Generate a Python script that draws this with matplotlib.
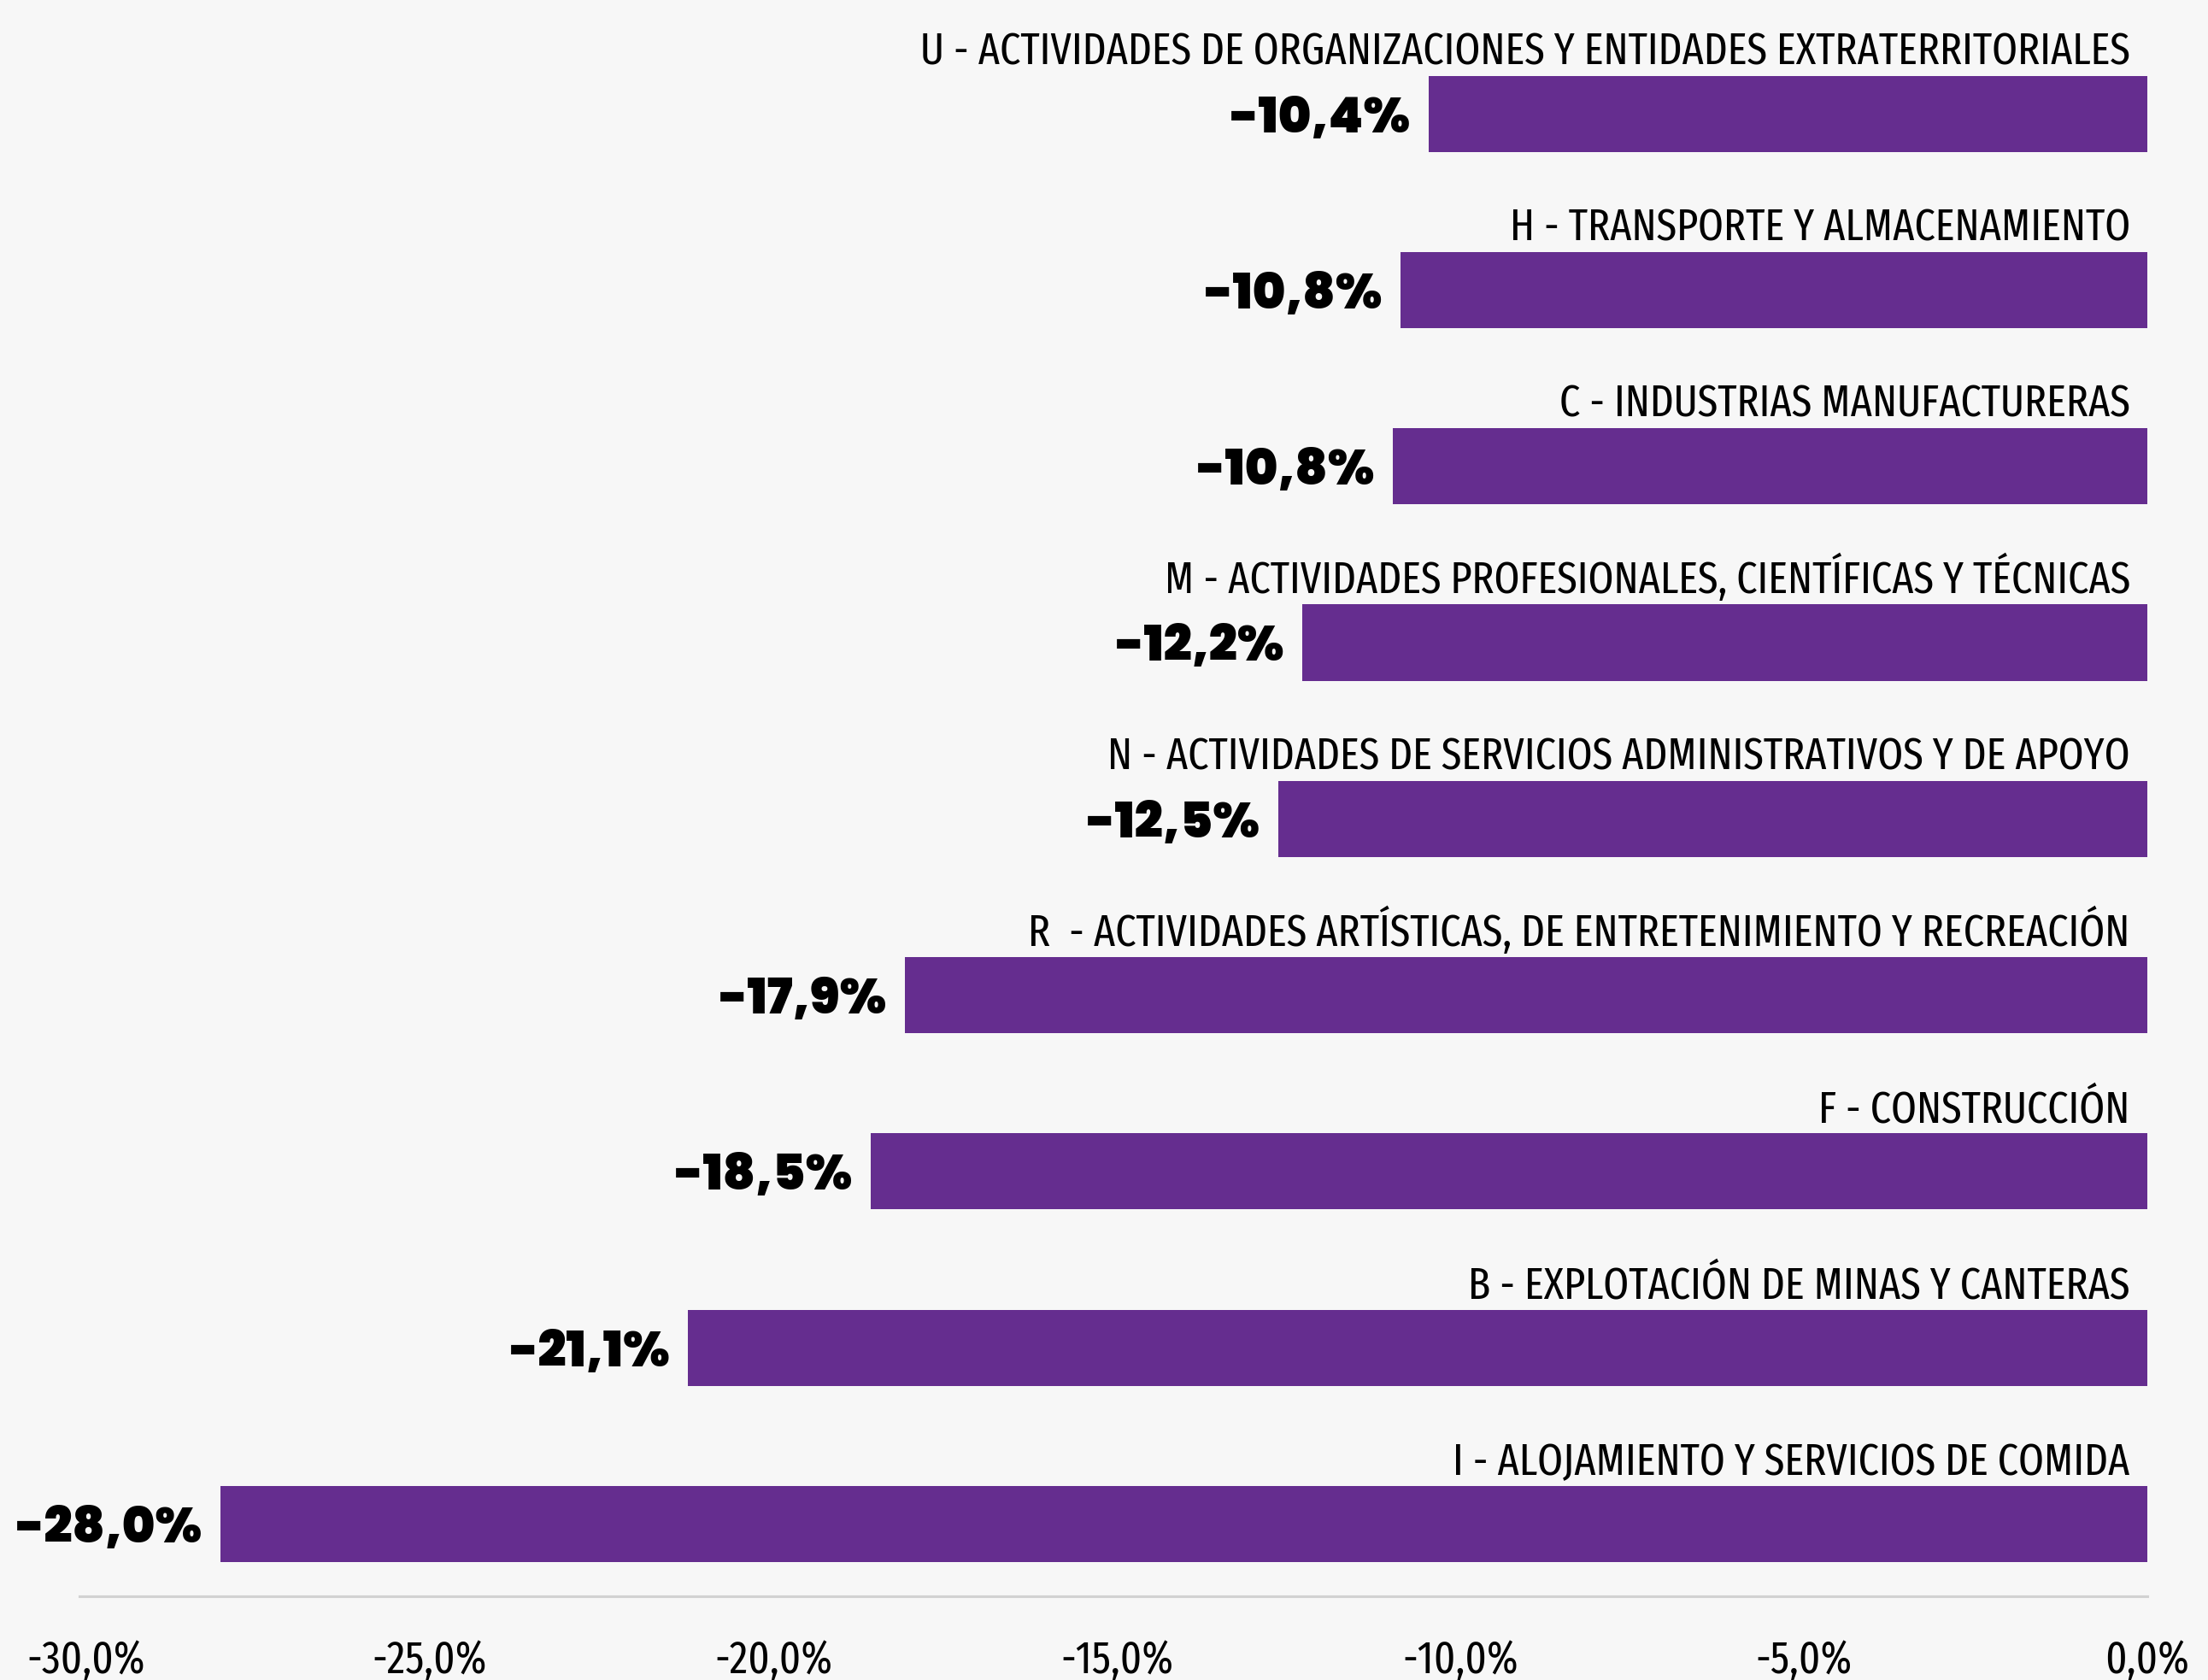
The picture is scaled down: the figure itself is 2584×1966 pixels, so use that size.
import matplotlib
matplotlib.use("Agg")
import matplotlib.pyplot as plt
from matplotlib.ticker import FixedLocator, FuncFormatter

# Datos (de arriba hacia abajo)
sectores = [
    "U - ACTIVIDADES DE ORGANIZACIONES Y ENTIDADES EXTRATERRITORIALES",
    "H - TRANSPORTE Y ALMACENAMIENTO",
    "C - INDUSTRIAS MANUFACTURERAS",
    "M - ACTIVIDADES PROFESIONALES, CIENTÍFICAS Y TÉCNICAS",
    "N - ACTIVIDADES DE SERVICIOS ADMINISTRATIVOS Y DE APOYO",
    "R  - ACTIVIDADES ARTÍSTICAS, DE ENTRETENIMIENTO Y RECREACIÓN",
    "F - CONSTRUCCIÓN",
    "B - EXPLOTACIÓN DE MINAS Y CANTERAS",
    "I - ALOJAMIENTO Y SERVICIOS DE COMIDA",
]
variacion = [-10.46, -10.87, -10.98, -12.30, -12.65, -18.08, -18.58, -21.24, -28.05]
etiquetas = ["-10,4%", "-10,8%", "-10,8%", "-12,2%", "-12,5%", "-17,9%", "-18,5%", "-21,1%", "-28,0%"]
ticks_x = [-30, -25, -20, -15, -10, -5, 0]

fondo = "#f7f7f7"
morado = "#652d8f"
fuente_cond = "Fira Sans Extra Condensed"
fuente_num = "Poppins"

W, H = 2584, 1966
fig = plt.figure(figsize=(W / 100, H / 100), dpi=100, facecolor=fondo)
ax = fig.add_axes([93 / W, (H - 1868) / H, 2420 / W, 1868 / H])
ax.set_facecolor(fondo)

n = len(sectores)
pos = [n - 1 - i for i in range(n)]
ax.barh(pos, variacion, height=0.432, color=morado, zorder=2)

for y, v, txt, et in zip(pos, variacion, sectores, etiquetas):
    # nombre del sector encima de la barra, alineado a la derecha
    ax.annotate(txt, xy=(0, y + 0.216), xytext=(-14.5, 9.5), textcoords="offset points",
                ha="right", va="baseline", fontsize=37.5, family=fuente_cond, color="black")
    # valor a la izquierda de la barra
    ax.annotate(et, xy=(v, y), xytext=(-15, -15.5), textcoords="offset points",
                ha="right", va="baseline", fontsize=42, family=fuente_num,
                fontweight=900, color="black")

ax.set_xlim(-30.1, 0)
ax.set_ylim(-0.41, n - 1 + 0.645)

ax.xaxis.set_major_locator(FixedLocator(ticks_x))
ax.xaxis.set_major_formatter(FuncFormatter(lambda v, p: f"{v:.1f}".replace(".", ",") + "%"))
ax.tick_params(axis="x", length=0, pad=36, labelsize=38)
for lab in ax.get_xticklabels():
    lab.set_family(fuente_cond)
ax.set_yticks([])

for s in ["top", "right", "left"]:
    ax.spines[s].set_visible(False)
ax.spines["bottom"].set_color("#d2d2d2")
ax.spines["bottom"].set_linewidth(2.2)

fig.savefig("out.png", facecolor=fondo)
